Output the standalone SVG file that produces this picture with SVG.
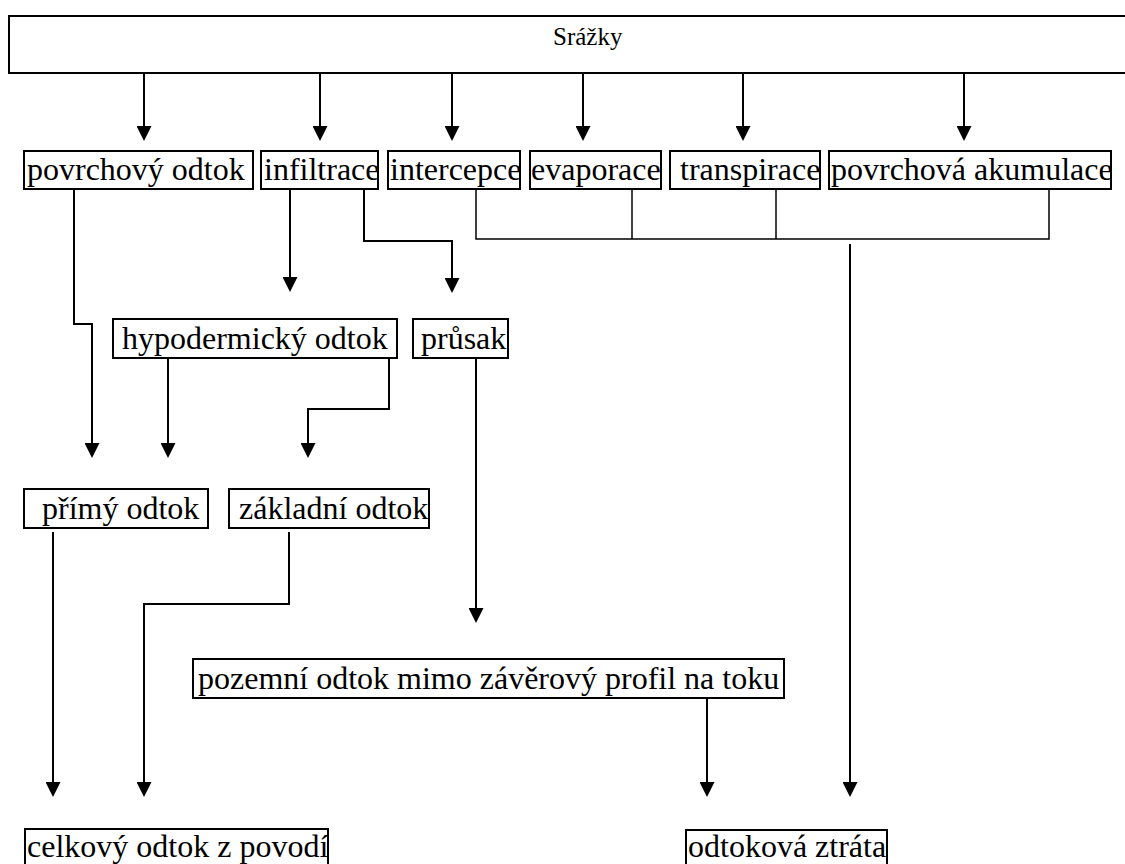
<svg xmlns="http://www.w3.org/2000/svg" width="1125" height="864" viewBox="0 0 1125 864">
<style>
.box{fill:#fff;stroke:#000;stroke-width:2}
.t{font-family:"Liberation Serif","Times New Roman",serif;font-size:32px;fill:#000}
.ts{font-family:"Liberation Serif","Times New Roman",serif;font-size:25px;fill:#000}
.c{fill:none;stroke:#000;stroke-width:2}
.cj{fill:none;stroke:#000;stroke-width:1.5}
</style>
<defs>
<marker id="ah" markerWidth="15" markerHeight="15" refX="0" refY="7.5" orient="auto" markerUnits="userSpaceOnUse">
<path d="M0,0 L15,7.5 L0,15 z" fill="#000"/>
</marker>
</defs>
<rect width="1125" height="864" fill="#fff"/>
<g id="srazky"><rect class="box" x="9" y="16" width="1125" height="57"/><text class="ts" x="553" y="45">Srážky</text></g>
<g id="povrchovy-odtok"><rect class="box" x="24" y="151" width="229" height="38"/><text class="t" x="27" y="180">povrchový odtok</text></g>
<g id="infiltrace"><rect class="box" x="261" y="151" width="117" height="38"/><text class="t" x="264" y="180">infiltrace</text></g>
<g id="intercepce"><rect class="box" x="388" y="151" width="132" height="38"/><text class="t" x="390" y="180">intercepce</text></g>
<g id="evaporace"><rect class="box" x="530" y="151" width="131" height="38"/><text class="t" x="531" y="180">evaporace</text></g>
<g id="transpirace"><rect class="box" x="670" y="151" width="150" height="38"/><text class="t" x="680" y="180">transpirace</text></g>
<g id="povrchova-akumulace"><rect class="box" x="829" y="151" width="282" height="38"/><text class="t" x="831" y="180">povrchová akumulace</text></g>
<g id="hypodermicky-odtok"><rect class="box" x="113" y="319" width="284" height="39"/><text class="t" x="122" y="349">hypodermický odtok</text></g>
<g id="prusak"><rect class="box" x="413" y="319" width="95" height="39"/><text class="t" x="421" y="349">průsak</text></g>
<g id="primy-odtok"><rect class="box" x="24" y="489" width="184" height="39"/><text class="t" x="42" y="519">přímý odtok</text></g>
<g id="zakladni-odtok"><rect class="box" x="229" y="489" width="200" height="39"/><text class="t" x="239" y="519">základní odtok</text></g>
<g id="pozemni-odtok"><rect class="box" x="193" y="659" width="591" height="39"/><text class="t" x="198" y="689">pozemní odtok mimo závěrový profil na toku</text></g>
<g id="celkovy-odtok"><rect class="box" x="25" y="829" width="303" height="40"/><text class="t" x="27" y="857">celkový odtok z povodí</text></g>
<g id="odtokova-ztrata"><rect class="box" x="686" y="830" width="201" height="40"/><text class="t" x="688" y="857">odtoková ztráta</text></g>
<g id="connectors">
<path class="c" d="M144,73 V126" marker-end="url(#ah)"/>
<path class="c" d="M320,73 V126" marker-end="url(#ah)"/>
<path class="c" d="M452,73 V126" marker-end="url(#ah)"/>
<path class="c" d="M583,73 V126" marker-end="url(#ah)"/>
<path class="c" d="M743,73 V126" marker-end="url(#ah)"/>
<path class="c" d="M964,73 V126" marker-end="url(#ah)"/>
<path class="c" d="M74,189 V324 H92 V443" marker-end="url(#ah)"/>
<path class="c" d="M290,189 V277" marker-end="url(#ah)"/>
<path class="c" d="M364,189 V241 H452 V278" marker-end="url(#ah)"/>
<path class="cj" d="M476,189 V239 H1049 V189"/>
<path class="cj" d="M632,189 V239"/>
<path class="cj" d="M776,189 V239"/>
<path class="c" d="M850,244 V782" marker-end="url(#ah)"/>
<path class="c" d="M168,358 V443" marker-end="url(#ah)"/>
<path class="c" d="M389,358 V409 H308 V443" marker-end="url(#ah)"/>
<path class="c" d="M476,358 V608" marker-end="url(#ah)"/>
<path class="c" d="M53,532 V782" marker-end="url(#ah)"/>
<path class="c" d="M289,532 V604 H144 V782" marker-end="url(#ah)"/>
<path class="c" d="M707,698 V782" marker-end="url(#ah)"/>
</g>
</svg>
